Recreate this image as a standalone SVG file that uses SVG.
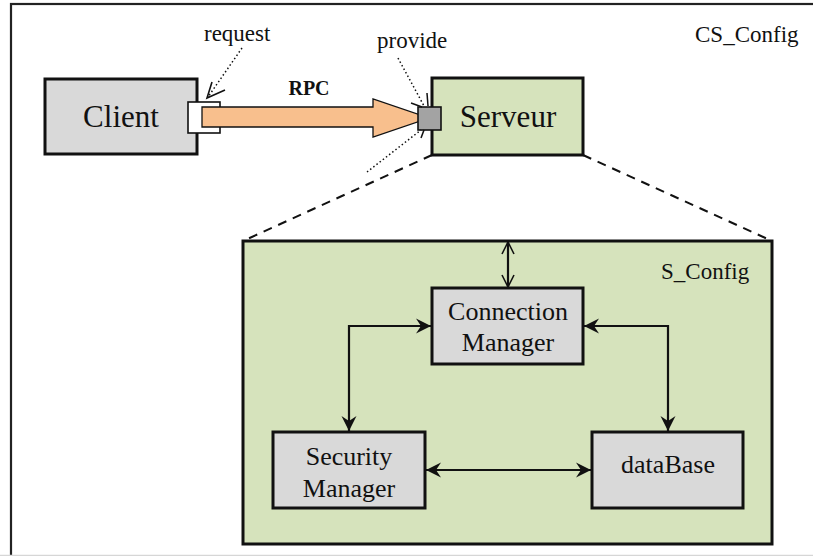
<svg xmlns="http://www.w3.org/2000/svg" width="813" height="556" viewBox="0 0 813 556">
<defs>
<style>
text{font-family:"Liberation Serif","Times New Roman",serif;fill:#111}
.node{font-size:26px;text-anchor:middle}
.big{font-size:31px;text-anchor:middle}
.lbl{font-size:23px}
.gray{fill:#d9d9d9;stroke:#111;stroke-width:3}
.green{fill:#d6e3bc;stroke:#111;stroke-width:3}
.conn{fill:none;stroke:#111;stroke-width:2.2}
.dot{fill:none;stroke:#111;stroke-width:1.5;stroke-dasharray:1.5 2.5}
.dash{fill:none;stroke:#111;stroke-width:2;stroke-dasharray:9 7}
</style>
<marker id="stealth" markerUnits="userSpaceOnUse" viewBox="-16 -9 18 18" refX="0" refY="0" markerWidth="18" markerHeight="18" orient="auto-start-reverse">
<path d="M0,0 L-15,-7.5 L-10,0 L-15,7.5 Z" fill="#111"/>
</marker>
<marker id="openv" markerUnits="userSpaceOnUse" viewBox="-16 -9 18 18" refX="0" refY="0" markerWidth="18" markerHeight="18" orient="auto-start-reverse">
<path d="M-12,-6 L0,0 L-12,6" fill="none" stroke="#111" stroke-width="1.6"/>
</marker>
</defs>
<rect x="0" y="0" width="813" height="556" fill="#fff"/>
<g id="frame">
<rect x="11" y="4" width="830" height="570" fill="none" stroke="#222" stroke-width="2.2"/>
<line x1="0" y1="555.5" x2="813" y2="555.5" stroke="#d6d6d6" stroke-width="1.5"/>
<text class="lbl" x="695" y="42">CS_Config</text>
</g>
<g id="client">
<rect class="gray" x="45" y="79" width="152" height="75" stroke-width="2.5"/>
<text class="big" x="121" y="127">Client</text>
<rect x="188" y="102" width="32" height="31" fill="#fff" stroke="#111" stroke-width="1.6"/>
</g>
<g id="rpc">
<path d="M202,107 L373,107 L373,99 L429,118 L373,137 L373,127 L202,127 Z" fill="#f8bf8d" stroke="#111" stroke-width="1.3"/>
<text x="309" y="95" font-size="20" font-weight="bold" text-anchor="middle">RPC</text>
<text class="lbl" x="204" y="41">request</text>
<text class="lbl" x="377" y="48">provide</text>
</g>
<g id="serveur">
<rect class="green" x="432" y="78" width="151" height="77" stroke-width="2.5"/>
<text class="big" x="508" y="127">Serveur</text>
<rect x="418" y="107" width="23" height="23" fill="#a3a3a3" stroke="#111" stroke-width="1.6"/>
</g>
<g id="s_config">
<rect class="green" x="243" y="241" width="529" height="303"/>
<text class="lbl" x="661" y="279">S_Config</text>
</g>
<g id="connectors">
<line class="dash" x1="432" y1="155" x2="243" y2="241"/>
<line class="dash" x1="583" y1="155" x2="772" y2="241"/>
<line class="dot" x1="242" y1="48" x2="208" y2="97"/>
<polyline points="212,82 207,98 225,90" fill="none" stroke="#111" stroke-width="1.6"/>
<line class="dot" x1="398" y1="58" x2="424" y2="106"/>
<line class="dot" x1="367" y1="172" x2="421" y2="130"/>
<g stroke="#111" stroke-width="1.5" fill="none">
<line x1="427" y1="93" x2="428" y2="106"/>
<line x1="411" y1="103" x2="422" y2="107"/>
<line x1="421" y1="138" x2="424" y2="130"/>
</g>
<line class="conn" x1="508" y1="242" x2="508" y2="287" marker-start="url(#openv)" marker-end="url(#openv)"/>
<polyline class="conn" points="431,326 349,326 349,431" marker-start="url(#stealth)" marker-end="url(#stealth)"/>
<polyline class="conn" points="584,326 668,326 668,431" marker-start="url(#stealth)" marker-end="url(#stealth)"/>
<line class="conn" x1="426" y1="470" x2="591" y2="470" marker-start="url(#stealth)" marker-end="url(#stealth)"/>
</g>
<g id="connection_manager">
<rect class="gray" x="432" y="288" width="151" height="76"/>
<text class="node" x="508" y="320">Connection</text>
<text class="node" x="508" y="351">Manager</text>
</g>
<g id="security_manager">
<rect class="gray" x="273" y="432" width="152" height="76"/>
<text class="node" x="349" y="465">Security</text>
<text class="node" x="349" y="497">Manager</text>
</g>
<g id="database">
<rect class="gray" x="592" y="432" width="151" height="76"/>
<text class="node" x="668" y="473">dataBase</text>
</g>
</svg>
